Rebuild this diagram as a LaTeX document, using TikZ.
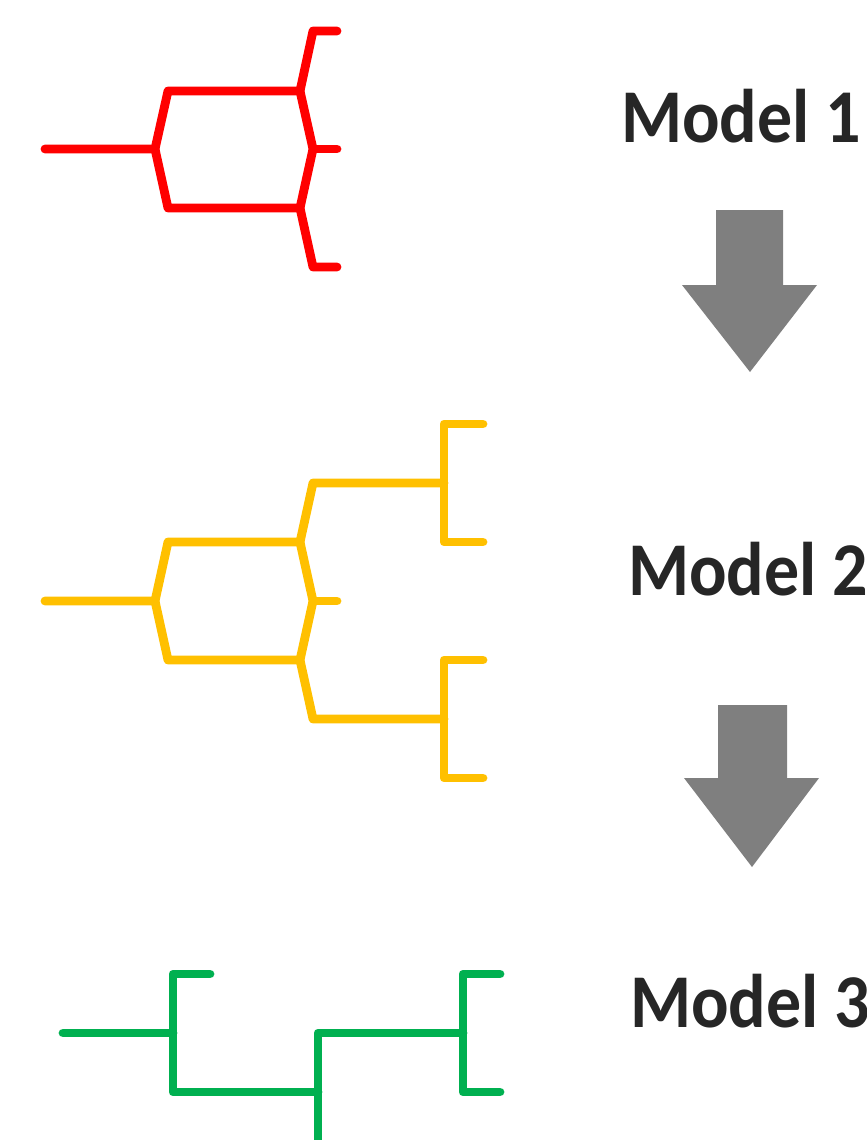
\documentclass[tikz,border=0pt]{standalone}
\usepackage{fontspec}
\setmainfont{Carlito}
\newfontfamily\labelfont[FakeStretch=0.92]{Carlito}
\begin{document}
\begin{tikzpicture}[x=1pt,y=-1pt,
  branch/.style={line width=8.8pt,line cap=round,line join=round},
  redtree/.style={branch,draw={rgb,255:red,255;green,0;blue,0}},
  yellowtree/.style={branch,draw={rgb,255:red,255;green,192;blue,0}},
  greentree/.style={branch,draw={rgb,255:red,0;green,176;blue,80}},
  downarrow/.style={fill={rgb,255:red,127;green,127;blue,127}},
  label/.style={anchor=base west,inner sep=0pt,font=\labelfont\bfseries\fontsize{76}{80}\selectfont,
    text={rgb,255:red,38;green,38;blue,38}}]
\useasboundingbox (0,0) rectangle (867,1140);
\clip (0,0) rectangle (867,1140);

% ---- Model 1 (red) ----
\coordinate (r0) at (45,149);
\coordinate (rA) at (155,149);
\coordinate (rU) at (300,91);
\coordinate (rL) at (300,208);
\coordinate (rM) at (313,149);
\draw[redtree] (r0) -- (rA) -- (168,91) -- (rU) -- (313,31) -- (337,31);
\draw[redtree] (rA) -- (168,208) -- (rL) -- (313,267) -- (337,267);
\draw[redtree] (rU) -- (rM) -- (rL);
\draw[redtree] (rM) -- (337,149);
\node[label] (m1) at (621,142) {Model 1};

% ---- arrow 1 ----
\fill[downarrow] (716,210) -- (783,210) -- (783,285) -- (817,285) -- (750,372)
  -- (682,285) -- (716,285) -- cycle;

% ---- Model 2 (yellow) ----
\coordinate (y0) at (45,601);
\coordinate (yA) at (155,601);
\coordinate (yU) at (300,542);
\coordinate (yL) at (300,660);
\coordinate (yM) at (313,601);
\coordinate (yR1) at (444,483);
\coordinate (yR2) at (444,719);
\draw[yellowtree] (y0) -- (yA) -- (168,542) -- (yU) -- (313,483) -- (yR1);
\draw[yellowtree] (yA) -- (168,660) -- (yL) -- (313,719) -- (yR2);
\draw[yellowtree] (yU) -- (yM) -- (yL);
\draw[yellowtree] (yM) -- (337,601);
\draw[yellowtree] (483,424) -- (444,424) -- (444,542) -- (483,542);
\draw[yellowtree] (483,660) -- (444,660) -- (444,778) -- (483,778);
\node[label] (m2) at (628,595) {Model 2};

% ---- arrow 2 ----
\fill[downarrow] (718,705) -- (787,705) -- (787,778) -- (819,778) -- (752,867)
  -- (684,778) -- (718,778) -- cycle;

% ---- Model 3 (green) ----
\coordinate (g0) at (63,1033);
\coordinate (gA) at (173,1033);
\coordinate (gB) at (318,1092);
\coordinate (gC) at (463,1033);
\draw[greentree] (g0) -- (gA);
\draw[greentree] (210,974) -- (173,974) -- (173,1092) -- (gB);
\draw[greentree] (318,1160) -- (318,1033) -- (gC);
\draw[greentree] (500,974) -- (463,974) -- (463,1092) -- (500,1092);
\node[label] (m3) at (630,1027) {Model 3};
\end{tikzpicture}
\end{document}
